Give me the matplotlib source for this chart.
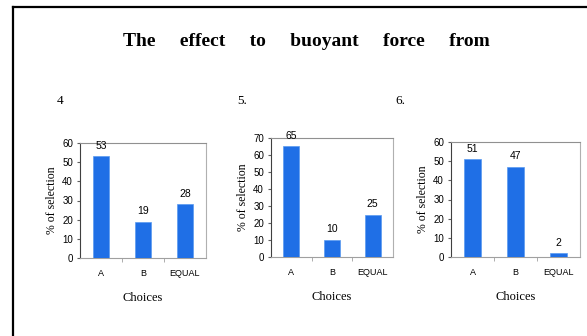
import numpy as np
import matplotlib
matplotlib.use("Agg")
import matplotlib.pyplot as plt
from matplotlib.lines import Line2D

W, H = 587, 336

categories = ["A", "B", "EQUAL"]
values_4 = [53, 19, 28]
values_5 = [65, 10, 25]
values_6 = [51, 47, 2]
ymax_list = [60, 70, 60]
panel_labels = ["4", "5.", "6."]

title = "The     effect     to     buoyant     force     from"
bar_color = "#1f6fe6"
serif = ["Liberation Serif", "DejaVu Serif"]
sans = ["Liberation Sans", "DejaVu Sans"]


def px_axes(fig, x0, x1, ytop, ybot):
    # pixel box -> figure fraction
    return fig.add_axes([x0 / W, 1 - ybot / H, (x1 - x0) / W, (ybot - ytop) / H])


def draw_panel(ax, vals, ymax):
    x = np.arange(len(categories))
    ax.bar(x, vals, width=0.4, color=bar_color, edgecolor="#5a9af0", linewidth=0.5, zorder=3)
    ax.set_xlim(-0.5, len(categories) - 0.5)
    ax.set_ylim(0, ymax)
    ax.set_yticks(np.arange(0, ymax + 1, 10))
    ax.set_xticks(x)
    ax.set_xticklabels(categories, fontsize=6.5, family=sans)
    ax.set_xticks([0.5, 1.5], minor=True)
    ax.tick_params(axis="x", which="major", length=0, pad=8)
    ax.tick_params(axis="x", which="minor", length=3, color="#a0a0a0", direction="out")
    ax.tick_params(axis="y", length=2, labelsize=7, pad=3, color="#606060")
    for t in ax.get_yticklabels():
        t.set_family(sans)
    ax.spines["left"].set_color("#404040")
    ax.spines["bottom"].set_color("#a0a0a0")
    ax.spines["top"].set_color("#909090")
    ax.spines["right"].set_color("#b0b0b0")
    for s in ax.spines.values():
        s.set_linewidth(0.8)
    for xi, v in zip(x, vals):
        ax.annotate(str(v), (xi, v), xytext=(0, 4), textcoords="offset points",
                    ha="center", va="bottom", fontsize=7.5, family=sans,
                    annotation_clip=False)
    ax.set_xlabel("Choices", fontsize=9, family=serif, labelpad=10)
    ax.set_ylabel("% of selection", fontsize=8.5, family=serif, labelpad=3)


fig = plt.figure(figsize=(W / 100, H / 100), dpi=100)

ax1 = px_axes(fig, 80, 206, 143, 258)
draw_panel(ax1, values_4, ymax_list[0])
ax2 = px_axes(fig, 271, 393, 138, 257)
draw_panel(ax2, values_5, ymax_list[1])
ax3 = px_axes(fig, 451, 580, 142, 257)
draw_panel(ax3, values_6, ymax_list[2])

fig.text(306 / W, 1 - 41 / H, title, ha="center", va="center",
         fontsize=14, fontweight="bold", family=serif)
for lab, xp in zip(panel_labels, [57, 237, 395]):
    fig.text(xp / W, 1 - 101 / H, lab, ha="left", va="center", fontsize=9.5, family=serif)

# outer frame (left and top only)
fig.add_artist(Line2D([13 / W, 13 / W], [0, 1 - 7 / H], color="black", lw=1.6))
fig.add_artist(Line2D([13 / W, 1], [1 - 7 / H, 1 - 7 / H], color="black", lw=1.6))

fig.savefig("out.png", dpi=100)
